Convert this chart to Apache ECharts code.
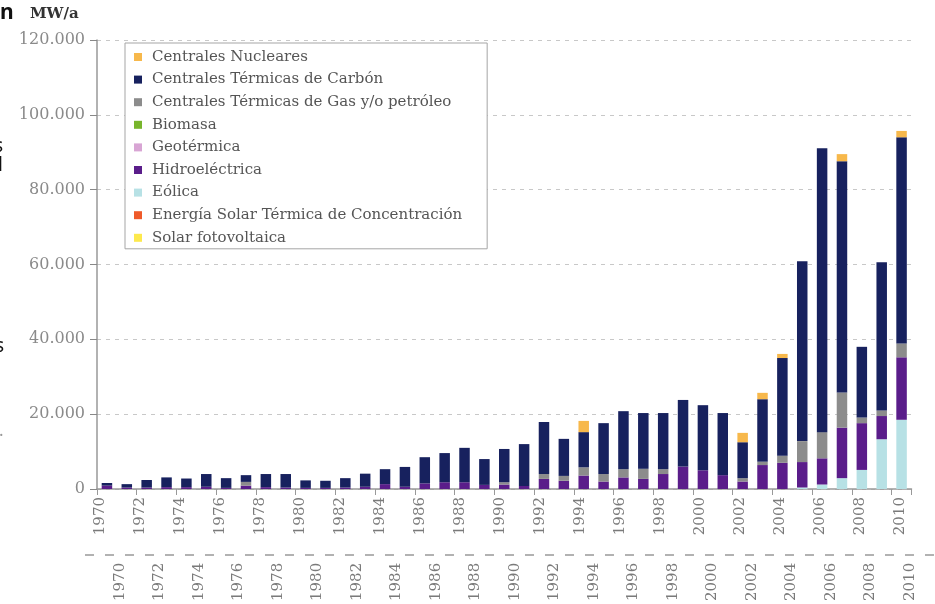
<!DOCTYPE html>
<html>
<head>
<meta charset="utf-8">
<script src="https://cdn.jsdelivr.net/npm/echarts@6/dist/echarts.min.js"></script>
<style>
html,body{margin:0;padding:0;background:#fff;}
#c{width:935px;height:604px;}
</style>
</head>
<body>
<div id="c"></div>
<script>
const years = ['1970','1971','1972','1973','1974','1975','1976','1977','1978','1979',
  '1980','1981','1982','1983','1984','1985','1986','1987','1988','1989',
  '1990','1991','1992','1993','1994','1995','1996','1997','1998','1999',
  '2000','2001','2002','2003','2004','2005','2006','2007','2008','2009','2010'];

const solarFV = [0,0,0,0,0,0,0,0,0,0, 0,0,0,0,0,0,0,0,0,0, 0,0,0,0,0,0,0,0,0,0, 0,0,0,0,0,0,0,0,0,0,0];
const solarTermica = [0,0,0,0,0,0,0,0,0,0, 0,0,0,0,0,0,0,0,0,0, 0,0,0,0,0,0,0,0,0,0, 0,0,0,0,0,0,0,0,0,0,0];
const eolica = [0,0,0,0,0,0,0,0,0,0, 0,0,0,0,0,0,0,0,0,0, 0,0,0,0,0,0,0,0,0,0, 0,0,0,0,0,400,1200,2900,5100,13300,18500];
const hidro = [900,400,400,500,500,600,300,900,500,400, 300,300,400,600,1300,600,1500,1800,1800,1100,
  1200,800,2700,2200,3600,2000,3100,2700,4000,6000, 5000,3700,2000,6400,7000,6800,7000,13500,12500,6200,16700];
const geotermica = [0,0,0,0,0,0,0,0,0,0, 0,0,0,0,0,0,0,0,0,0, 0,0,0,0,0,0,0,0,0,0, 0,0,0,0,0,0,0,0,0,0,0];
const biomasa = [0,0,0,0,0,0,0,0,0,0, 0,0,0,0,0,0,0,0,0,0, 0,0,0,0,0,0,0,0,0,0, 0,0,0,0,0,0,0,0,0,0,0];
const gas = [0,0,0,0,0,0,0,1000,0,0, 0,0,0,0,0,0,0,0,0,0, 600,0,1300,1300,2200,2000,2200,2700,1300,0,
  0,0,900,900,1900,5600,7000,9400,1500,1500,3700];
const carbon = [700,900,2000,2600,2300,3400,2600,1800,3500,3600, 2000,1900,2500,3500,4000,5300,7000,7800,9200,6900,
  8900,11200,13900,9900,9400,13600,15500,14900,15000,17800, 17400,16600,9600,16700,26100,48100,75900,61800,18900,39600,55100];
const nuclear = [0,0,0,0,0,0,0,0,0,0, 0,0,0,0,0,0,0,0,0,0, 0,0,0,0,3000,0,0,0,0,0, 0,0,2500,1700,1100,0,0,1900,0,0,1700];

const yTicks = [0,20000,40000,60000,80000,100000,120000];

const names = {
  nuclear:'Centrales Nucleares',
  carbon:'Centrales Térmicas de Carbón',
  gas:'Centrales Térmicas de Gas y/o petróleo',
  biomasa:'Biomasa',
  geo:'Geotérmica',
  hidro:'Hidroeléctrica',
  eolica:'Eólica',
  solarT:'Energía Solar Térmica de Concentración',
  solarFV:'Solar fotovoltaica'
};
const colors = {
  nuclear:'#f7b84b', carbon:'#17215e', gas:'#8c8c8c', biomasa:'#78b52c', geo:'#d8a5d4',
  hidro:'#5a1d8a', eolica:'#b7e1e5', solarT:'#ef5a2a', solarFV:'#fde94d'
};

const stackOrder = [
  ['solarFV', solarFV], ['solarT', solarTermica], ['eolica', eolica], ['hidro', hidro],
  ['geo', geotermica], ['biomasa', biomasa], ['gas', gas], ['carbon', carbon], ['nuclear', nuclear]
];

const fmt = v => String(v).replace(/\B(?=(\d{3})+(?!\d))/g, '.');
const serif = 'DejaVu Serif';
const axisTxt = '#7a7a7a';

const chart = echarts.init(document.getElementById('c'), null, {renderer:'canvas'});
chart.setOption({
  animation:false,
  backgroundColor:'#fff',
  grid:[
    {left:97, right:23.5, top:40, bottom:115},
    {left:100, right:35, top:40, bottom:115},
    {left:120, right:25, top:40, bottom:49}
  ],
  legend:{
    orient:'vertical', left:125, top:43,
    padding:[6,25,3,9],
    itemGap:6.6, itemWidth:8, itemHeight:8, icon:'rect',
    backgroundColor:'#fff', borderColor:'#a5a5a5', borderWidth:1,
    textStyle:{fontFamily:serif, fontSize:15, color:'#555', lineHeight:16, padding:[0,0,0,5]},
    data:['nuclear','carbon','gas','biomasa','geo','hidro','eolica','solarT','solarFV'].map(k=>names[k])
  },
  xAxis:[
    {type:'category', gridIndex:0, data:years, boundaryGap:true,
      axisLine:{lineStyle:{color:'#999', width:1.5}},
      axisTick:{show:true, length:6, lineStyle:{color:'#999'}},
      axisLabel:{show:false}},
    {type:'category', gridIndex:1, data:years, boundaryGap:false,
      axisLine:{show:false}, axisTick:{show:false},
      axisLabel:{interval:1, rotate:90, margin:8, fontFamily:serif, fontSize:15, color:axisTxt}},
    {type:'category', gridIndex:2, data:years, boundaryGap:false,
      axisLine:{show:false}, axisTick:{show:false},
      axisLabel:{interval:1, rotate:90, margin:10, fontFamily:serif, fontSize:15, color:axisTxt}}
  ],
  yAxis:[
    {type:'value', gridIndex:0, min:0, max:120000, interval:20000,
      axisLine:{show:true, lineStyle:{color:'#999', width:1.5}},
      axisTick:{show:true, length:7, lineStyle:{color:'#888'}},
      axisLabel:{margin:12, fontFamily:serif, fontSize:16, color:'#8a8a8a',
        formatter:v => yTicks.includes(v) ? fmt(v) : ''},
      splitLine:{show:true, lineStyle:{color:'#c8c8c8', type:[4,5], width:1}}},
    {type:'value', gridIndex:1, show:false, min:0, max:120000},
    {type:'value', gridIndex:2, show:false, min:0, max:120000}
  ],
  series: stackOrder.map(([k, arr]) => ({
    name:names[k], type:'bar', stack:'total', xAxisIndex:0, yAxisIndex:0,
    barWidth:10.5, data:arr, itemStyle:{color:colors[k]}
  })),
  graphic:[
    {type:'text', left:30, top:7, style:{text:'MW/a', font:'bold 15px "DejaVu Serif"', fill:'#333'}},
    {type:'line', shape:{x1:85, y1:555, x2:935, y2:555}, style:{stroke:'#999', lineWidth:1.5, lineDash:[9,11]}},
    {type:'text', x:0, y:3, style:{text:'n', font:'bold 21px "Noto Sans"', fill:'#111'}},
    {type:'text', x:-6, y:137, style:{text:'s', font:'19px "Noto Sans"', fill:'#111'}},
    {type:'text', x:-2, y:156, style:{text:'l', font:'19px "Noto Sans"', fill:'#111'}},
    {type:'text', x:-3, y:229, style:{text:'l', font:'17px "Noto Sans"', fill:'#777'}},
    {type:'text', x:-5, y:337, style:{text:'s', font:'19px "Noto Sans"', fill:'#111'}},
    {type:'text', x:-1, y:423, style:{text:'.', font:'17px "Noto Sans"', fill:'#999'}}
  ]
});
</script>
</body>
</html>
